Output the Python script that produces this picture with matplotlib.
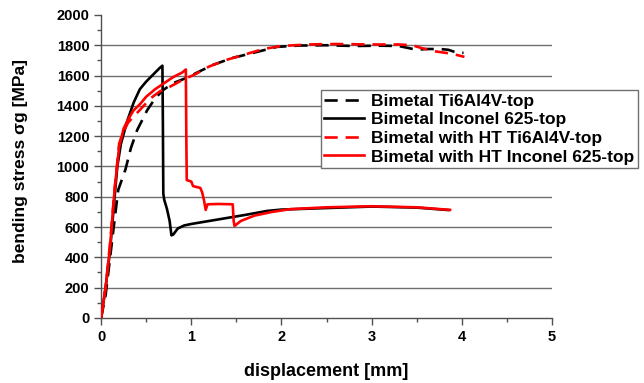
import matplotlib
matplotlib.use("Agg")
import matplotlib.pyplot as plt
from matplotlib.ticker import MultipleLocator

# bending test curves
ti_x = [0, 0.05, 0.1, 0.15, 0.19, 0.27, 0.33, 0.4, 0.51, 0.6, 0.69, 0.8, 0.95, 1.1, 1.24,
        1.45, 1.69, 1.95, 2.2, 2.5, 2.8, 3.1, 3.3, 3.5, 3.6, 3.76, 3.85, 3.95, 4.02]
ti_y = [0, 150, 400, 650, 845, 980, 1120, 1240, 1370, 1450, 1505, 1550, 1585, 1630, 1670,
        1715, 1750, 1789, 1798, 1800, 1795, 1797, 1795, 1770, 1775, 1775, 1770, 1750, 1750]

inc_x = [0, 0.05, 0.1, 0.15, 0.18, 0.22, 0.29, 0.36, 0.43, 0.5, 0.55, 0.6, 0.65, 0.68,
         0.685, 0.69, 0.7, 0.73, 0.76, 0.78, 0.8, 0.85, 0.92, 1.0, 1.2, 1.47, 1.6, 1.84,
         2.0, 2.5, 3.0, 3.5, 3.85]
inc_y = [0, 200, 450, 800, 1000, 1150, 1300, 1420, 1510, 1560, 1590, 1620, 1650, 1665,
         1300, 820, 780, 720, 640, 545, 550, 590, 610, 620, 640, 667, 680, 706,
         715, 725, 735, 728, 712]

ht_ti_x = [0, 0.05, 0.1, 0.15, 0.2, 0.24, 0.3, 0.43, 0.55, 0.65, 0.76, 0.9, 1.05, 1.2,
           1.4, 1.6, 1.8, 2.0, 2.3, 2.6, 3.0, 3.3, 3.45, 3.55, 3.7, 3.83, 3.95, 4.03]
ht_ti_y = [0, 200, 500, 850, 1150, 1220, 1290, 1373, 1450, 1495, 1525, 1570, 1610, 1660,
           1705, 1740, 1775, 1795, 1805, 1808, 1805, 1805, 1800, 1782, 1760, 1749, 1735, 1723]

ht_inc_x = [0, 0.05, 0.1, 0.15, 0.2, 0.25, 0.3, 0.36, 0.43, 0.5, 0.6, 0.7, 0.8, 0.9, 0.94,
            0.945, 0.95, 1.0, 1.02, 1.1, 1.12, 1.14, 1.16, 1.18, 1.3, 1.46, 1.47, 1.48,
            1.55, 1.7, 1.9, 2.1, 2.5, 3.0, 3.5, 3.87]
ht_inc_y = [0, 200, 470, 850, 1130, 1250, 1310, 1370, 1410, 1460, 1510, 1550, 1590, 1620, 1640,
            1200, 910, 900, 870, 858, 830, 780, 713, 750, 752, 750, 640, 607,
            640, 675, 700, 718, 730, 737, 730, 713]

labels = ["Bimetal Ti6Al4V-top", "Bimetal Inconel 625-top",
          "Bimetal with HT Ti6Al4V-top", "Bimetal with HT Inconel 625-top"]

plt.rcParams['font.family'] = ['Liberation Sans', 'DejaVu Sans']
plt.rcParams['font.weight'] = 'bold'

fig = plt.figure(figsize=(6.44, 3.83), dpi=100)
ax = fig.add_axes([0.157, 0.170, 0.700, 0.791])

lw = 1.9
ax.plot(ti_x, ti_y, color='black', lw=lw, dashes=(5, 3), label=labels[0], zorder=3)
ax.plot(inc_x, inc_y, color='black', lw=lw, label=labels[1], zorder=3)
ax.plot(ht_ti_x, ht_ti_y, color='red', lw=lw, dashes=(5, 3), label=labels[2], zorder=4)
ax.plot(ht_inc_x, ht_inc_y, color='red', lw=lw, label=labels[3], zorder=4)

ax.set_xlim(0, 5)
ax.set_ylim(0, 2000)
ax.xaxis.set_major_locator(MultipleLocator(1))
ax.xaxis.set_minor_locator(MultipleLocator(0.5))
ax.yaxis.set_major_locator(MultipleLocator(200))
ax.yaxis.set_minor_locator(MultipleLocator(100))

for v in range(200, 2000, 200):
    ax.axhline(v, color='#707070', lw=1.0, zorder=1)

ax.spines['top'].set_visible(False)
ax.spines['right'].set_visible(False)
for s in ('left', 'bottom'):
    ax.spines[s].set_color('#505050')
    ax.spines[s].set_linewidth(1.0)
ax.tick_params(which='major', direction='out', length=5, width=1, colors='#505050',
               labelcolor='black', labelsize=10.5)
ax.tick_params(which='minor', direction='out', length=3, width=1, colors='#505050')
for t in ax.get_xticklabels() + ax.get_yticklabels():
    t.set_fontweight('bold')

ax.set_xlabel("displacement [mm]", fontsize=13, fontweight='bold', labelpad=14)
ax.set_ylabel("bending stress σg [MPa]", fontsize=12.5, fontweight='bold')
ax.yaxis.set_label_coords(-0.162, 0.518)

leg = fig.legend(loc='upper left', bbox_to_anchor=(0.498, 0.765), bbox_transform=fig.transFigure,
                 prop={'weight': 'bold', 'size': 12.5}, handlelength=2.3, handletextpad=0.4,
                 labelspacing=0.2, borderpad=0.2, borderaxespad=0, fancybox=False, framealpha=1)
leg.get_frame().set_edgecolor('#707070')
leg.get_frame().set_linewidth(1.0)

fig.savefig("out.png", dpi=100)
